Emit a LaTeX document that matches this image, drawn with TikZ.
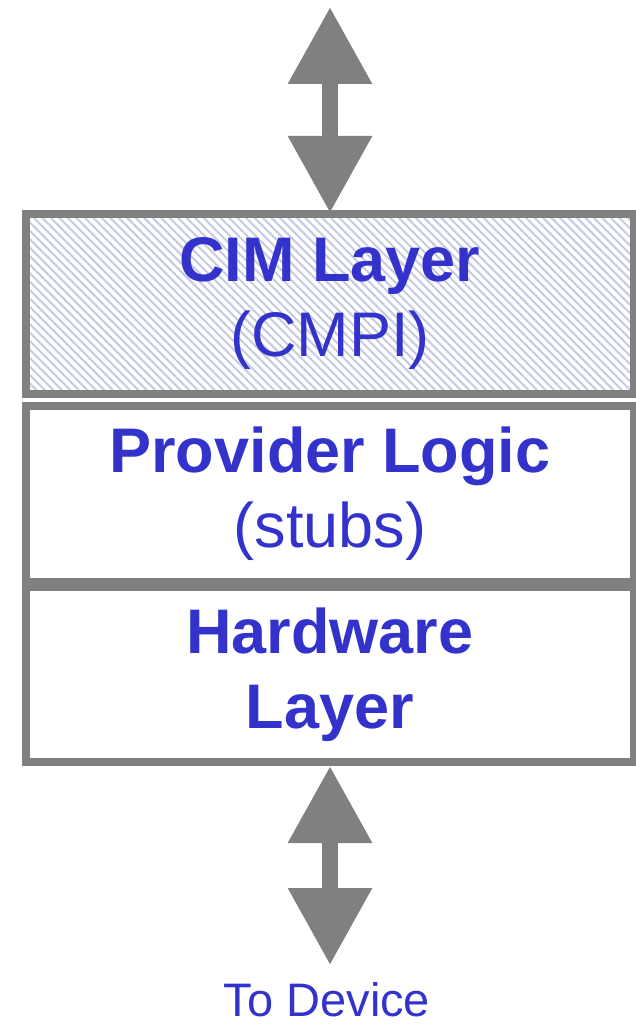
\documentclass[tikz,border=0pt]{standalone}
\usepackage{fontspec}
\setmainfont{Liberation Sans}
\usetikzlibrary{arrows.meta,patterns.meta}
\definecolor{layerblue}{RGB}{51,51,204}
\definecolor{framegray}{RGB}{128,128,128}
\definecolor{hatchblue}{RGB}{196,202,224}

\tikzset{
  layerbox/.style={draw=framegray,line width=8pt,minimum width=608pt,inner sep=0pt,
    text=layerblue,align=center,font=\fontsize{63}{75}\selectfont},
  linkarrow/.style={framegray,line width=16pt,
    {Triangle[length=77pt,width=80pt]}-{Triangle[length=77pt,width=80pt]}}
}

\begin{document}
\begin{tikzpicture}[x=1pt,y=1pt]
  % --- frame ---
  \useasboundingbox (0,0) rectangle (635,-1024);

  % --- layer stack ---
  \node[layerbox,minimum height=180pt,
        pattern={Lines[angle=-45,distance=6pt,line width=2pt]},pattern color=hatchblue]
    (cim) at (330,-304) {\textbf{CIM Layer}\\(CMPI)};
  \node[layerbox,minimum height=176pt] (logic) at (330,-494) {\textbf{Provider Logic}\\(stubs)};
  \node[layerbox,minimum height=175pt] (hw) at (330,-674.5) {\textbf{Hardware}\\\textbf{Layer}};

  % --- links in and out ---
  \coordinate (hosttop) at (330,-7);
  \coordinate (devtip) at (330,-965);
  \draw[linkarrow] (hosttop) -- (cim.north);
  \draw[linkarrow] (hw.south) -- (devtip);

  \node[anchor=base,text=layerblue,font=\fontsize{47}{56}\selectfont,inner sep=0pt]
    (device) at (327,-1016) {To Device};

\end{tikzpicture}
\end{document}
